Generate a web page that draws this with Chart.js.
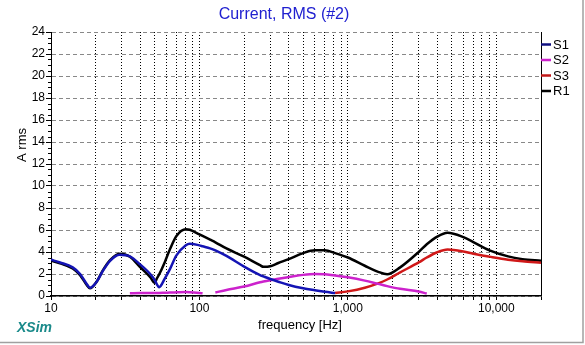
<!DOCTYPE html>
<html><head><meta charset="utf-8">
<script src="https://cdn.jsdelivr.net/npm/chart.js@4"></script>
<style>html,body{margin:0;padding:0;background:#fff;}#wrap{width:585px;height:345px;position:relative;}</style>
</head><body><div id="wrap"><canvas id="c" width="585" height="345"></canvas></div>
<script>
const freqs = [10,11.5,14,15.7,17.4,18.3,20.3,22.4,25,29,34,40,46.6,50,51.5,53.5,58.5,63,70,81,86,100,105,118,128,152,200,256,270,300,340,400,500,600,700,820,1000,1300,1600,1840,2250,3000,3400,4000,4700,6000,7000,9000,12000,15000,20000];
const s1 = [3.3,3.05,2.6,2.0,1.1,0.75,1.3,2.3,3.2,3.75,3.6,2.85,2.0,1.45,1.1,0.8,1.6,2.4,3.7,4.62,4.76,4.6,4.52,4.33,4.15,3.64,2.67,1.9,1.78,1.55,1.3,1.0,0.7,0.52,0.38,0.27,
  null,null,null,null,null,null,null,null,null,null,null,null,null,null,null];
const s2 = [null,null,null,null,null,null,null,null,null,null,
  0.25,0.27,0.28,0.28,0.28,0.28,0.3,0.31,0.33,0.36,0.35,0.28,0.25,
  null,
  0.32,0.55,0.86,1.25,1.32,1.44,1.57,1.72,1.92,2.0,1.97,1.87,1.7,1.4,1.1,0.9,0.65,0.4,0.22,
  null,null,null,null,null,null,null,null];
const s3 = [null,null,null,null,null,null,null,null,null,null,null,null,null,null,null,null,null,null,null,null,null,null,null,null,null,null,null,null,null,null,null,null,null,null,null,
  0.27,0.42,0.75,1.15,1.5,2.15,3.05,3.5,3.98,4.22,4.05,3.85,3.58,3.3,3.15,3.02];
const r1 = [3.2,2.98,2.5,1.9,1.0,0.7,1.3,2.36,3.27,3.85,3.57,2.6,1.72,1.2,1.55,1.95,3.1,4.18,5.45,6.07,6.02,5.6,5.46,5.12,4.88,4.32,3.57,2.8,2.65,2.7,3.0,3.35,3.9,4.15,4.15,3.9,3.5,2.75,2.2,1.97,2.6,4.0,4.7,5.4,5.75,5.35,4.9,4.15,3.6,3.35,3.2];
const seriesNames = ['S1','S2','S3','R1'];
const seriesColors = ['#1414b4','#cc22cc','#d01818','#000000'];
const legendColors = ['#101080','#cc22cc','#c01818','#000000'];
const xGrid = [10,20,30,40,50,60,70,80,90,100,200,300,400,500,600,700,800,900,1000,2000,3000,4000,5000,6000,7000,8000,9000,10000,20000];
const xTickLabels = {10:'10',100:'100',1000:'1,000',10000:'10,000'};
const yMin = 0, yMax = 24, yStep = 2, yMinorStep = 0.5;
const titleText = 'Current, RMS (#2)';
const xTitle = 'frequency [Hz]';
const yTitle = 'A rms';
const brand = 'XSim';
const FONT = "'Liberation Sans', Arial, sans-serif";

const seriesValues = [s1, s2, s3, r1];
const datasets = seriesValues.map((vals, i) => ({
  label: seriesNames[i],
  data: freqs.map((f, j) => ({x: f, y: vals[j]})),
  borderColor: seriesColors[i],
  backgroundColor: seriesColors[i],
  borderWidth: 2.5,
  pointRadius: 0,
  fill: false,
  spanGaps: false,
  cubicInterpolationMode: 'monotone'
}));

const decor = {
  id: 'decor',
  afterDraw(chart) {
    const ctx = chart.ctx;
    const ca = chart.chartArea;
    const ys = chart.scales.y;
    ctx.save();
    ctx.strokeStyle = '#000'; ctx.lineWidth = 1; ctx.setLineDash([]);
    ctx.beginPath(); ctx.moveTo(Math.round(ca.right) + 0.5, ca.top); ctx.lineTo(Math.round(ca.right) + 0.5, ca.bottom); ctx.stroke();
    for (let v = yMin; v <= yMax + 1e-9; v += yMinorStep) {
      if (Math.abs(v / yStep - Math.round(v / yStep)) < 1e-9) continue;
      const py = Math.round(ys.getPixelForValue(v)) + 0.5;
      ctx.beginPath(); ctx.moveTo(ca.left - 3, py); ctx.lineTo(ca.left, py); ctx.stroke();
    }
    ctx.fillStyle = '#2020d0';
    ctx.font = '16px ' + FONT;
    ctx.textAlign = 'center'; ctx.textBaseline = 'middle';
    ctx.fillText(titleText, 284, 15);
    ctx.fillStyle = '#000';
    ctx.font = '13px ' + FONT;
    ctx.fillText(xTitle, 300, 325);
    ctx.save();
    ctx.translate(22, 145); ctx.rotate(-Math.PI / 2);
    ctx.fillText(yTitle, 0, 0);
    ctx.restore();
    ctx.fillStyle = '#1a8a8a';
    ctx.font = 'italic bold 14px ' + FONT;
    ctx.textAlign = 'left';
    ctx.fillText(brand, 17, 328);
    ctx.font = '13px ' + FONT;
    ctx.textAlign = 'left'; ctx.textBaseline = 'middle';
    seriesNames.forEach((n, i) => {
      const y = 44.5 + i * 15.5;
      ctx.strokeStyle = legendColors[i]; ctx.lineWidth = 2.5;
      ctx.beginPath(); ctx.moveTo(ca.right, y); ctx.lineTo(ca.right + 10, y); ctx.stroke();
      ctx.fillStyle = '#000';
      ctx.fillText(n, ca.right + 12, y + 0.5);
    });
    ctx.strokeStyle = '#a0a0a0'; ctx.lineWidth = 1.5;
    ctx.beginPath(); ctx.moveTo(0, 342.5); ctx.lineTo(583, 342.5); ctx.lineTo(583, 0); ctx.stroke();
    ctx.restore();
  }
};

new Chart(document.getElementById('c'), {
  type: 'line',
  data: { datasets },
  plugins: [decor],
  options: {
    responsive: false, animation: false, devicePixelRatio: 1,
    layout: { padding: { top: 32, right: 44, left: 0, bottom: 0 } },
    plugins: { legend: { display: false }, title: { display: false }, tooltip: { enabled: false } },
    scales: {
      x: {
        type: 'logarithmic', min: 10, max: 20000,
        afterBuildTicks: s => { s.ticks = xGrid.map(v => ({ value: v })); },
        afterFit: s => { s.height = 49; },
        grid: { color: '#000', lineWidth: 1, tickLength: 4, tickColor: '#000' },
        border: { display: true, color: '#000', width: 1.5, dash: [1, 2] },
        ticks: { autoSkip: false, maxRotation: 0, minRotation: 0, padding: 1, color: '#000',
          font: { family: FONT, size: 12 }, callback: v => xTickLabels[v] || '' }
      },
      y: {
        min: yMin, max: yMax,
        afterFit: s => { s.width = 51; },
        grid: { color: '#888', lineWidth: 1, tickLength: 5, tickColor: '#000' },
        border: { display: true, color: '#000', width: 1, dash: [4, 3] },
        ticks: { stepSize: yStep, padding: 1, color: '#000', font: { family: FONT, size: 12 } }
      }
    }
  }
});
</script></body></html>
